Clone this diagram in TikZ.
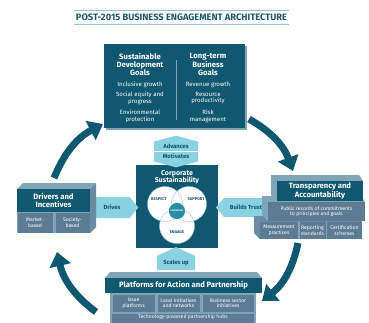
\documentclass[tikz,border=0pt]{standalone}
\usepackage{fontspec}
\setmainfont{Fira Sans}
\usetikzlibrary{arrows.meta,positioning,shapes.symbols}
\definecolor{coreteal}{RGB}{15,88,112}
\definecolor{leadteal}{RGB}{40,140,162}
\definecolor{slateblue}{RGB}{92,124,148}
\definecolor{topface}{RGB}{128,164,184}
\definecolor{sideface}{RGB}{104,140,162}
\definecolor{flowcyan}{RGB}{137,210,226}
\definecolor{titleteal}{RGB}{28,88,112}
\definecolor{rulecyan}{RGB}{150,195,212}

\newcommand{\titletxt}{\fontsize{9.3}{10}\selectfont\bfseries}
\newcommand{\headtxt}{\fontsize{7.7}{7.9}\selectfont\bfseries}
\newcommand{\itemtxt}{\fontsize{6.1}{6.7}\selectfont}
\newcommand{\subtxt}{\fontsize{5.1}{5.6}\selectfont}
\newcommand{\flowtxt}{\fontsize{5.9}{10.5}\selectfont\bfseries}
\newcommand{\venntxt}{\fontsize{4}{4.2}\selectfont\bfseries}

\begin{document}
\begin{tikzpicture}[x=1pt,y=-1pt,
    darkbox/.style={fill=coreteal, inner sep=0pt, text=white, align=center, font=\headtxt},
    subbox/.style={fill=slateblue, inner sep=0pt, text=white, align=center, font=\subtxt},
    headwhite/.style={text=white, align=center, font=\headtxt, inner sep=0pt},
    goaltxt/.style={text=white, align=center, font=\itemtxt, inner sep=0pt},
    flowsign/.style={signal, fill=flowcyan, inner sep=0pt, text=coreteal, align=center, font=\flowtxt},
    venn/.style={circle, fill=white, minimum size=35pt, inner sep=0pt},
    vennlabel/.style={text=coreteal, font=\venntxt, inner sep=0pt},
    cyclearrow/.style={line width=7pt, coreteal, -{Triangle[length=14pt,width=21pt]}}]
    \useasboundingbox (0,0) rectangle (369,322);
    \clip (0,0) rectangle (369,322);

    % Title between two rules
    \node[font=\titletxt, text=titleteal, inner sep=0pt] (title) at (181.5,17.5) {POST-2015 BUSINESS ENGAGEMENT ARCHITECTURE};
    \draw[rulecyan, line width=1.2pt] (74,10.5) -- (289,10.5);
    \draw[rulecyan, line width=1.2pt] (74,24.5) -- (289,24.5);

    % Goals box
    \fill[topface] (106,46) rectangle (247,130);
    \node[darkbox, minimum width=141pt, minimum height=84pt] (goals) at (174.5,86) {};
    \draw[topface, line width=0.5pt] (176,60) -- (176,120);
    \node[headwhite] (sdg) at (140,64.5) {Sustainable\\Development\\Goals};
    \node[headwhite] (ltg) at (208,64.5) {Long-term\\Business\\Goals};
    \node[goaltxt] (sdg1) at (140,84.5) {Inclusive growth};
    \node[goaltxt] (sdg2) at (140,98) {Social equity and\\progress};
    \node[goaltxt] (sdg3) at (140,116.5) {Environmental\\protection};
    \node[goaltxt] (ltg1) at (208,84.5) {Revenue growth};
    \node[goaltxt] (ltg2) at (208,98) {Resource\\productivity};
    \node[goaltxt] (ltg3) at (208,116.5) {Risk\\management};

    % Corporate sustainability core
    \node[darkbox, minimum width=82pt, minimum height=83pt] (core) at (177,206.5) {};
    \node[headwhite, font=\fontsize{7}{7.5}\selectfont\bfseries] (cstitle) at (177,177.5) {Corporate\\Sustainability};
    \node[venn] (respect) at (165,204) {};
    \node[venn] (support) at (189,204) {};
    \node[venn] (engage) at (177,226) {};
    \foreach \c in {respect,support,engage}
        \draw[rulecyan, line width=0.4pt] (\c.center) circle[radius=17.5pt];
    \node[circle, fill=leadteal, draw=white, line width=0.6pt, minimum size=17pt, inner sep=0pt,
          text=white, font=\fontsize{2.3}{2.5}\selectfont\bfseries] (lead) at (177,211) {LEADERSHIP};
    \node[vennlabel] (respectlbl) at (159,199) {RESPECT};
    \node[vennlabel] (supportlbl) at (196,199) {SUPPORT};
    \node[vennlabel] (engagelbl) at (177,232) {ENGAGE};

    % Advances / Motivates
    \node[flowsign, signal to=north and south, signal pointer angle=150,
          minimum width=44pt, minimum height=27pt] (advances) at (176,151.5) {Advances\\Motivates};
    \draw[white, line width=0.7pt] (advances.west) -- (advances.east);

    % Side arrows
    \node[flowsign, signal to=east, signal pointer angle=100,
          minimum width=44pt, minimum height=21pt] (drives) at (112,207.5) {Drives};
    \node[flowsign, signal to=west, signal pointer angle=100,
          minimum width=52pt, minimum height=19pt] (trust) at (246,207.5) {Builds Trust};
    \node[flowsign, signal to=north, signal pointer angle=130,
          minimum width=38pt, minimum height=20pt] (scales) at (176,263) {Scales up};

    % Drivers block
    \fill[topface] (17,189) -- (23,183) -- (96,183) -- (90,189) -- cycle;
    \fill[sideface] (90,189) -- (96,183) -- (96,227) -- (90,233) -- cycle;
    \fill[topface] (17,212) rectangle (90,233);
    \node[darkbox, minimum width=73pt, minimum height=23pt] (drivers) at (53.5,200.5) {Drivers and\\Incentives};
    \node[subbox, minimum width=35pt, minimum height=20pt] (market) at (35,222.5) {Market-\\based};
    \node[subbox, minimum width=34pt, minimum height=20pt] (society) at (72.5,222.5) {Society-\\based};

    % Transparency block
    \fill[sideface] (260,239) -- (254,233) -- (254,216) -- (358,216) -- (362,222) -- (260,222) -- cycle;
    \fill[topface] (260,222) rectangle (362,239);
    \node[subbox, minimum width=38pt, minimum height=16.5pt] (measure) at (279,230.5) {Measurement\\practices};
    \node[subbox, minimum width=26pt, minimum height=16.5pt] (report) at (312.5,230.5) {Reporting\\standards};
    \node[subbox, minimum width=35pt, minimum height=16.5pt] (certify) at (344.5,230.5) {Certification\\schemes};
    \fill[topface] (268,221) -- (262,215) -- (262,196) -- (361,196) -- (365,202) -- (268,202) -- cycle;
    \node[subbox, minimum width=97pt, minimum height=19pt] (records) at (316.5,211.5) {Public records of commitments\\to principles and goals};
    \fill[topface] (277,201) -- (271,195) -- (271,175) -- (359,175) -- (363,181) -- (277,181) -- cycle;
    \node[darkbox, minimum width=86pt, minimum height=20pt] (transp) at (320,191) {Transparency and\\Accountability};

    % Platforms block
    \fill[topface] (110,272) -- (257,272) -- (262,278) -- (105,278) -- cycle;
    \node[darkbox, minimum width=157pt, minimum height=15pt] (platforms) at (183.5,285.5) {Platforms for Action and Partnership};
    \fill[topface] (110,293) rectangle (256,326);
    \node[subbox, minimum width=42pt, minimum height=17pt] (issue) at (133.5,303) {Issue\\platforms};
    \node[subbox, minimum width=42pt, minimum height=17pt] (local) at (178.5,303) {Local initiatives\\and networks};
    \node[subbox, minimum width=51pt, minimum height=17pt] (business) at (228,303) {Business sector\\initiatives};
    \node[subbox, anchor=north, minimum width=142pt, text height=5pt, text depth=7pt] (hubs) at (183,313.5) {Technology-powered partnership hubs};

    % Cycle arrows
    \coordinate (lefttop1) at (54,178);
    \coordinate (lefttop2) at (103,124);
    \coordinate (topright1) at (249,119);
    \coordinate (topright2) at (293,171);
    \coordinate (rightbot1) at (298,243);
    \coordinate (rightbot2) at (262,301);
    \coordinate (botleft1) at (96,312);
    \coordinate (botleft2) at (57,252);
    \draw[cyclearrow] (lefttop1) to[bend left=20] (lefttop2);
    \draw[cyclearrow] (topright1) to[bend left=20] (topright2);
    \draw[cyclearrow] (rightbot1) to[bend left=20] (rightbot2);
    \draw[cyclearrow] (botleft1) to[bend left=20] (botleft2);
\end{tikzpicture}
\end{document}
